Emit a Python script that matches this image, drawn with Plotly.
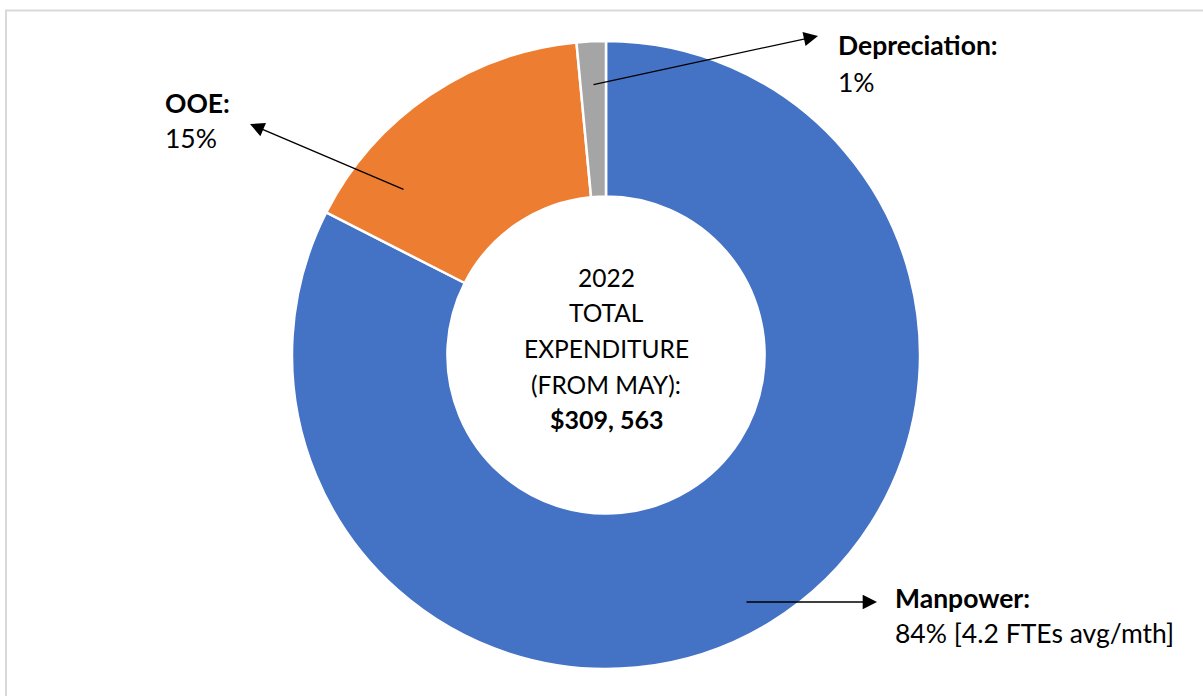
import plotly.graph_objects as go

# ---- data ----
categories = ["Manpower", "OOE", "Depreciation"]
values = [82.5, 16.0, 1.5]
label_titles = ["Manpower:", "OOE:", "Depreciation:"]
label_values = ["84% [4.2 FTEs avg/mth]", "15%", "1%"]
center_lines = ["2022", "TOTAL", "EXPENDITURE", "(FROM MAY):"]
center_total = "$309, 563"

# ---- style ----
W, H = 1203, 696
colors = ["#4472C4", "#ED7D31", "#A5A5A5"]
FONT = "Lato"
cx, cy, R = 606, 355, 314

def px(x):
    return x / W

def py(y):
    return 1 - y / H

fig = go.Figure()
fig.add_trace(go.Pie(
    labels=categories, values=values, hole=0.505, sort=False,
    direction="clockwise", rotation=0,
    marker=dict(colors=colors, line=dict(color="white", width=2.5)),
    textinfo="none", hoverinfo="label+percent", showlegend=False,
    domain=dict(x=[px(cx - R), px(cx + R)], y=[py(cy + R), py(cy - R)]),
))

ann = []
# label positions (left x, title line centre, value line centre)
label_pos = {
    "Manpower": (895, 598, 633),
    "OOE": (165, 103, 138),
    "Depreciation": (838, 45, 82),
}
for cat, t, v in zip(categories, label_titles, label_values):
    x0, y1, y2 = label_pos[cat]
    ann.append(dict(x=px(x0 - 2), y=py(y1), xref="paper", yref="paper", text="<b>" + t + "</b>",
                    showarrow=False, xanchor="left", yanchor="middle",
                    font=dict(family=FONT, size=26.5, color="black")))
    ann.append(dict(x=px(x0 - 2), y=py(y2), xref="paper", yref="paper", text=v,
                    showarrow=False, xanchor="left", yanchor="middle",
                    font=dict(family=FONT, size=26.5, color="black")))

# arrows: (head_x, head_y, tail_x, tail_y)
arrows = [(877, 602, 745, 602), (250, 124, 405, 190), (818, 36, 592, 85)]
for hx, hy, tx, ty in arrows:
    ann.append(dict(x=px(hx), y=py(hy), xref="paper", yref="paper",
                    ax=tx - hx, ay=ty - hy, axref="pixel", ayref="pixel",
                    showarrow=True, arrowhead=2, arrowsize=2.2, arrowwidth=1.3,
                    arrowcolor="black", text=""))

center_y = [277, 312, 348, 385]
for line, yy in zip(center_lines, center_y):
    ann.append(dict(x=px(cx), y=py(yy), xref="paper", yref="paper", text=line,
                    showarrow=False, xanchor="center", yanchor="middle",
                    font=dict(family=FONT, size=24.5, color="black")))
ann.append(dict(x=px(cx), y=py(419), xref="paper", yref="paper", text="<b>" + center_total + "</b>",
                showarrow=False, xanchor="center", yanchor="middle",
                font=dict(family=FONT, size=25, color="black")))

fig.update_layout(
    width=W, height=H, margin=dict(l=0, r=0, t=0, b=0),
    paper_bgcolor="white", plot_bgcolor="white",
    annotations=ann,
    shapes=[dict(type="rect", xref="paper", yref="paper",
                 x0=px(6), x1=1.02, y0=-0.02, y1=py(10.5),
                 line=dict(color="#D9D9D9", width=2), fillcolor="rgba(0,0,0,0)")],
)

fig.write_html("out.html")
